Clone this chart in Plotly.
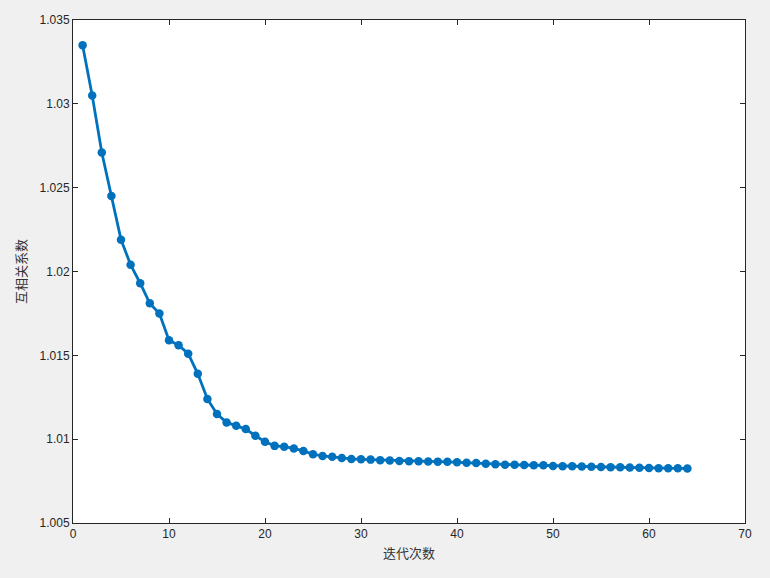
import plotly.graph_objects as go

iterations = list(range(1, 65))
xcorr = [
    1.0335, 1.0305, 1.0271, 1.0245, 1.0219, 1.0204, 1.0193, 1.0181, 1.0175, 1.0159,
    1.0156, 1.0151, 1.0139, 1.0124, 1.0115, 1.0110, 1.0108, 1.0106, 1.0102, 1.00985,
    1.0096, 1.00955, 1.00945, 1.0093, 1.0091, 1.0090, 1.00895, 1.00888, 1.00882, 1.0088,
    1.00878, 1.00875, 1.00873, 1.0087, 1.00869, 1.00868, 1.00867, 1.00866, 1.00865, 1.00862,
    1.0086, 1.00858, 1.00853, 1.00851, 1.00848, 1.00847, 1.00846, 1.00845, 1.00844, 1.0084,
    1.00839, 1.00838, 1.00837, 1.00836, 1.00834, 1.00833, 1.00832, 1.00831, 1.0083, 1.00828,
    1.00827, 1.00826, 1.00826, 1.00825,
]

x_ticks = [0, 10, 20, 30, 40, 50, 60, 70]
y_ticks = [1.005, 1.01, 1.015, 1.02, 1.025, 1.03, 1.035]
y_ticktext = ["1.005", "1.01", "1.015", "1.02", "1.025", "1.03", "1.035"]

fig = go.Figure()
fig.add_trace(go.Scatter(
    x=iterations,
    y=xcorr,
    mode="lines+markers",
    line=dict(color="#0072BD", width=2.8),
    marker=dict(color="#0072BD", size=8.5),
    showlegend=False,
))

axis_font = dict(family="Liberation Sans, Arial, sans-serif", size=12, color="#262626")
title_font = dict(family="Noto Sans CJK SC, sans-serif", size=13, color="#333333")

fig.update_layout(
    width=770,
    height=578,
    paper_bgcolor="#f0f0f0",
    plot_bgcolor="white",
    margin=dict(l=73, r=25, t=20, b=55),
    xaxis=dict(
        range=[0, 70],
        tickvals=x_ticks,
        ticks="inside",
        ticklen=5,
        tickcolor="#262626",
        showline=True,
        linecolor="#262626",
        linewidth=1,
        mirror="ticks",
        showgrid=False,
        zeroline=False,
        tickfont=axis_font,
        title=dict(text="迭代次数", font=title_font, standoff=8),
    ),
    yaxis=dict(
        range=[1.005, 1.035],
        tickvals=y_ticks,
        ticktext=y_ticktext,
        ticks="inside",
        ticklen=5,
        tickcolor="#262626",
        showline=True,
        linecolor="#262626",
        linewidth=1,
        mirror="ticks",
        showgrid=False,
        zeroline=False,
        tickfont=axis_font,
        title=dict(text="互相关系数", font=title_font, standoff=10),
    ),
)

# drop the default page margin so the figure sits at the window's corner
fig.write_html(
    "out.html",
    config={"displayModeBar": False},
    post_script="document.body.style.margin='0';document.body.style.background='#f0f0f0';",
)
